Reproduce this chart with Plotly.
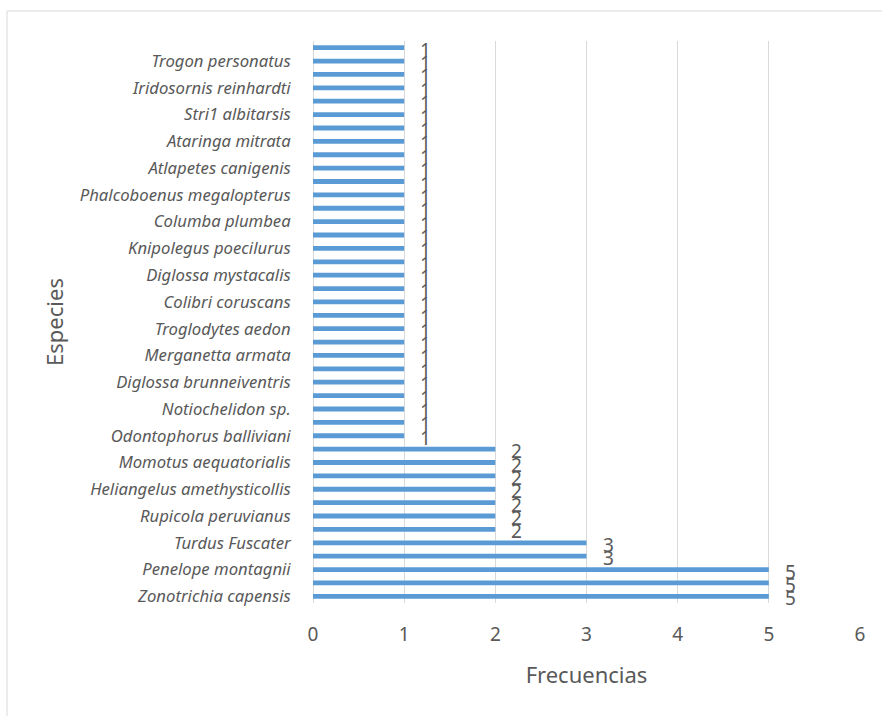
import plotly.graph_objects as go

# Frequency of each species, listed from the bottom bar to the top bar
frecuencias = [5, 5, 5, 3, 3, 2, 2, 2, 2, 2, 2, 2] + [1] * 30

# Species names shown on the category axis (every second bar, from the bottom)
especies_visibles = [
    "Zonotrichia capensis",
    "Penelope montagnii",
    "Turdus Fuscater",
    "Rupicola peruvianus",
    "Heliangelus amethysticollis",
    "Momotus aequatorialis",
    "Odontophorus balliviani",
    "Notiochelidon sp.",
    "Diglossa brunneiventris",
    "Merganetta armata",
    "Troglodytes aedon",
    "Colibri coruscans",
    "Diglossa mystacalis",
    "Knipolegus poecilurus",
    "Columba plumbea",
    "Phalcoboenus megalopterus",
    "Atlapetes canigenis",
    "Ataringa mitrata",
    "Stri1 albitarsis",
    "Iridosornis reinhardti",
    "Trogon personatus",
]

x_ticks = [0, 1, 2, 3, 4, 5, 6]

posiciones = list(range(len(frecuencias)))
pos_etiquetas = posiciones[::2][: len(especies_visibles)]

GRIS = "#595959"
FUENTE = "Noto Sans"

fig = go.Figure(
    go.Bar(
        x=frecuencias,
        y=posiciones,
        orientation="h",
        marker=dict(color="#5B9BD5", line=dict(width=0)),
        hoverinfo="x+y",
    )
)

# Value labels beside the end of each bar
for pos, val in zip(posiciones, frecuencias):
    fig.add_annotation(
        x=val,
        y=pos,
        text=str(val),
        showarrow=False,
        xanchor="left",
        yanchor="middle",
        xshift=14,
        yshift=-2,
        font=dict(family=FUENTE, size=19, color=GRIS),
    )

fig.update_layout(
    width=882,
    height=716,
    margin=dict(l=313, r=22, t=41, b=113),
    paper_bgcolor="white",
    plot_bgcolor="white",
    bargap=0.64,
    showlegend=False,
    font=dict(family=FUENTE, color=GRIS),
    shapes=[
        dict(
            type="rect",
            xref="paper",
            yref="paper",
            x0=-0.5594,
            x1=1.05,
            y0=-0.21,
            y1=1.0534,
            line=dict(color="#D9D9D9", width=1),
            fillcolor="rgba(0,0,0,0)",
            layer="below",
        )
    ],
)

fig.update_xaxes(
    range=[0, 6],
    tickvals=x_ticks,
    ticktext=[str(t) for t in x_ticks],
    showgrid=True,
    gridcolor="#D9D9D9",
    gridwidth=1,
    zeroline=True,
    zerolinecolor="#D9D9D9",
    zerolinewidth=1,
    showline=False,
    ticks="outside",
    ticklen=14,
    tickcolor="rgba(0,0,0,0)",
    tickfont=dict(family=FUENTE, size=19, color=GRIS),
    title=dict(
        text="Frecuencias",
        font=dict(family=FUENTE, size=22, color=GRIS),
        standoff=21,
    ),
)

fig.update_yaxes(
    range=[-0.5, len(frecuencias) - 0.5],
    tickvals=pos_etiquetas,
    ticktext=[f"<i>{e}</i>" for e in especies_visibles],
    showgrid=False,
    zeroline=False,
    showline=False,
    ticks="outside",
    ticklen=18,
    tickcolor="rgba(0,0,0,0)",
    tickfont=dict(family=FUENTE, size=16.7, color=GRIS),
    title=dict(
        text="Especies",
        font=dict(family=FUENTE, size=22, color=GRIS),
        standoff=10,
    ),
)

fig.write_html("out.html")
